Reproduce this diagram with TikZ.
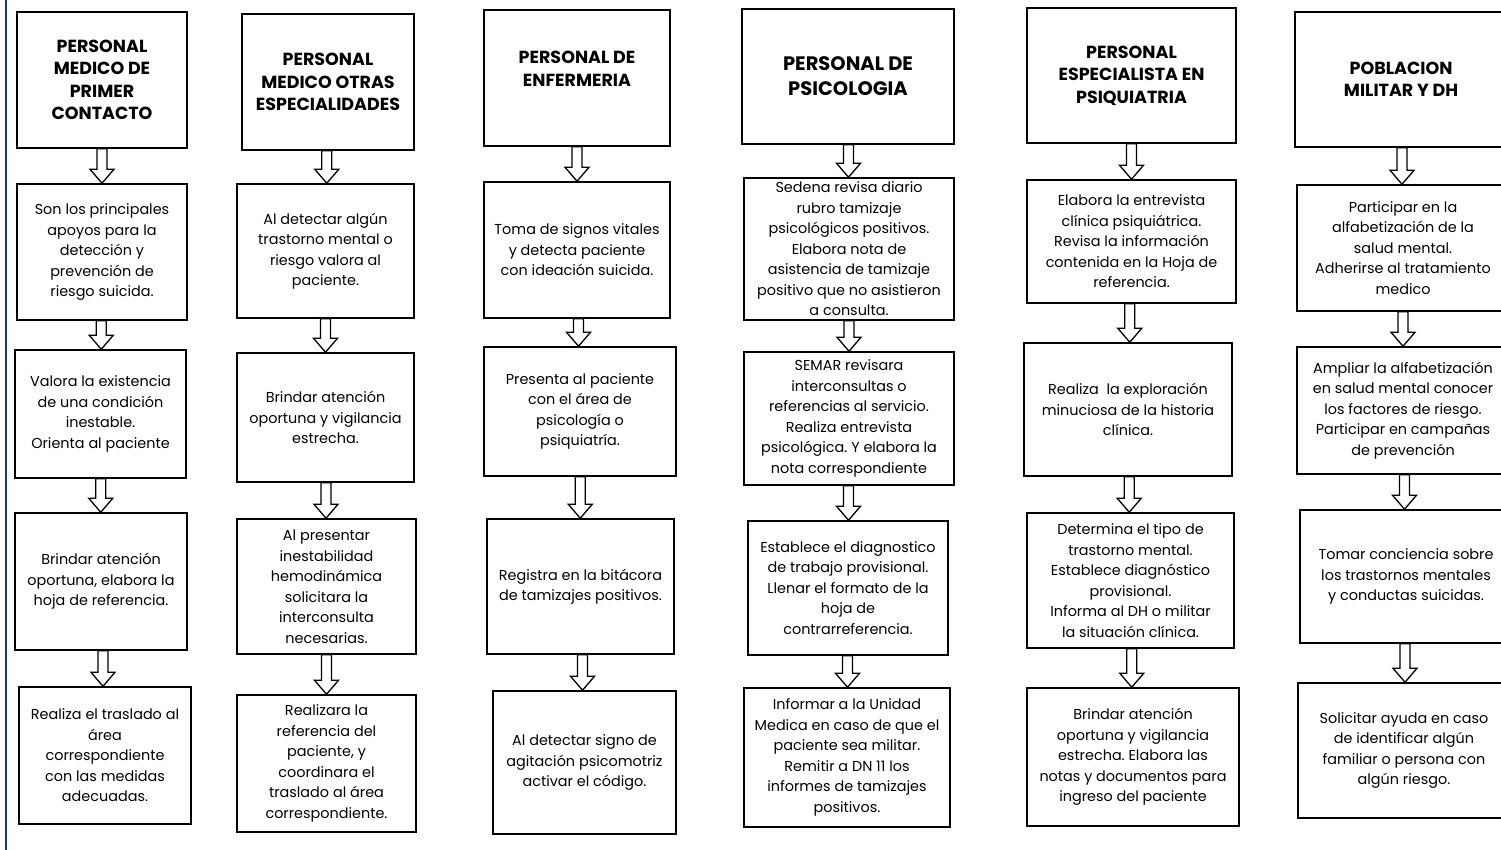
\documentclass[tikz,border=0pt]{standalone}
\usepackage{fontspec}
\setmainfont{Poppins}
\usetikzlibrary{calc,positioning}
\frenchspacing

\newcommand{\downarrowbox}[2]{%
  \draw[hollow] let \p1=($(#1.south)!0.5!(#2.north)$), \p2=(#1.south), \p3=(#2.north) in
    (\x1-5pt,\y2) -- (\x1-5pt,\y3+14pt) -- (\x1-12pt,\y3+14pt) -- (\x1,\y3)
    -- (\x1+12pt,\y3+14pt) -- (\x1+5pt,\y3+14pt) -- (\x1+5pt,\y2) -- cycle;}

\begin{document}
\begin{tikzpicture}[
    x=1pt, y=-1pt,
    header/.style={
        draw,
        line width=1.5pt,
        align=center,
        inner sep=1pt,
        font=\bfseries\fontsize{17.5}{22.5}\selectfont
    },
    stepbox/.style={
        draw,
        line width=1.5pt,
        align=center,
        inner xsep=2pt,
        inner ysep=0pt,
        font=\fontsize{14.4}{20.5}\selectfont
    },
    hollow/.style={draw=black, fill=white, line width=1.3pt, line join=miter},
    edgeline/.style={draw={rgb,255:red,31;green,56;blue,100}, line width=2.5pt}
]

\clip (0,0) rectangle (1501,850);
\fill[white] (0,0) rectangle (1501,850);

% Left border line
\draw[edgeline] (6,0) -- (6,850);

% Column 1 (medico de primer contacto)
\node[header, minimum width=170, minimum height=136] (h1) at (102,80) {PERSONAL\\MEDICO DE\\PRIMER\\CONTACTO};
\node[stepbox, minimum width=170, minimum height=136] (b11) at (102,252) {Son los principales\\apoyos para la\\detección y\\prevención de\\riesgo suicida.};
\node[stepbox, minimum width=171, minimum height=128] (b12) at (100.5,414) {Valora la existencia\\de una condición\\inestable.\\Orienta al paciente};
\node[stepbox, minimum width=172, minimum height=137] (b13) at (101,581.5) {Brindar atención\\oportuna, elabora la\\hoja de referencia.};
\node[stepbox, minimum width=172, minimum height=137] (b14) at (105,755.5) {Realiza el traslado al\\área\\correspondiente\\con las medidas\\adecuadas.};

% Column 2 (otras especialidades)
\node[header, minimum width=172, minimum height=136] (h2) at (328,82) {PERSONAL\\MEDICO OTRAS\\ESPECIALIDADES};
\node[stepbox, minimum width=177, minimum height=134] (b21) at (325.5,251) {Al detectar algún\\trastorno mental o\\riesgo valora al\\paciente.};
\node[stepbox, minimum width=177, minimum height=129] (b22) at (325.5,417.5) {Brindar atención\\oportuna y vigilancia\\estrecha.};
\node[stepbox, minimum width=179, minimum height=135] (b23) at (326.5,586.5) {Al presentar\\inestabilidad\\hemodinámica\\solicitara la\\interconsulta\\necesarias.};
\node[stepbox, minimum width=179, minimum height=137] (b24) at (326.5,763.5) {Realizara la\\referencia del\\paciente, y\\coordinara el\\traslado al área\\correspondiente.};

% Column 3 (enfermeria)
\node[header, minimum width=186, minimum height=136] (h3) at (577,78) {PERSONAL DE\\ENFERMERIA\par\vspace{18pt}};
\node[stepbox, minimum width=186, minimum height=136] (b31) at (577,250) {Toma de signos vitales\\y detecta paciente\\con ideación suicida.};
\node[stepbox, minimum width=192, minimum height=129] (b32) at (580,411.5) {Presenta al paciente\\con el área de\\psicología o\\psiquiatría.};
\node[stepbox, minimum width=187, minimum height=135] (b33) at (580.5,586.5) {Registra en la bitácora\\de tamizajes positivos.};
\node[stepbox, minimum width=183, minimum height=143] (b34) at (584.5,762.5) {Al detectar signo de\\agitación psicomotriz\\activar el código.};

% Column 4 (psicologia)
\node[header, minimum width=212, minimum height=135, font=\bfseries\fontsize{19.5}{25}\selectfont] (h4) at (848,76.5) {PERSONAL DE\\PSICOLOGIA};
\node[stepbox, minimum width=210, minimum height=142] (b41) at (849,249) {Sedena revisa diario\\rubro tamizaje\\psicológicos positivos.\\Elabora nota de\\asistencia de tamizaje\\positivo que no asistieron\\a consulta.};
\node[stepbox, minimum width=210, minimum height=133] (b42) at (849,418.5) {SEMAR revisara\\interconsultas o\\referencias al servicio.\\Realiza entrevista\\psicológica. Y elabora la\\nota correspondiente};
\node[stepbox, minimum width=200, minimum height=134] (b43) at (848,588) {Establece el diagnostico\\de trabajo provisional.\\Llenar el formato de la\\hoja de\\contrarreferencia.};
\node[stepbox, minimum width=206, minimum height=139] (b44) at (847,757.5) {Informar a la Unidad\\Medica en caso de que el\\paciente sea militar.\\Remitir a DN 11 los\\informes de tamizajes\\positivos.};

% Column 5 (psiquiatria)
\node[header, minimum width=209, minimum height=135] (h5) at (1131.5,75.5) {PERSONAL\\ESPECIALISTA EN\\PSIQUIATRIA};
\node[stepbox, minimum width=209, minimum height=123] (b51) at (1131.5,241.5) {Elabora la entrevista\\clínica psiquiátrica.\\Revisa la información\\contenida en la Hoja de\\referencia.};
\node[stepbox, minimum width=208, minimum height=133] (b52) at (1128,409.5) {Realiza\ \ la exploración\\minuciosa de la historia\\clínica.};
\node[stepbox, minimum width=207, minimum height=135] (b53) at (1130.5,580.5) {Determina el tipo de\\trastorno mental.\\Establece diagnóstico\\provisional.\\Informa al DH o militar\\la situación clínica.};
\node[stepbox, minimum width=212, minimum height=138] (b54) at (1133,757) {Brindar atención\\oportuna y vigilancia\\estrecha. Elabora las\\notas y documentos para\\ingreso del paciente};

% Column 6 (poblacion, cut at the right edge)
\node[header, minimum width=212, minimum height=135] (h6) at (1401,79.5) {POBLACION\\MILITAR Y DH};
\node[stepbox, minimum width=212, minimum height=126] (b61) at (1403,248) {Participar en la\\alfabetización de la\\salud mental.\\Adherirse al tratamiento\\medico};
\node[stepbox, minimum width=212, minimum height=127] (b62) at (1403,410.5) {Ampliar la alfabetización\\en salud mental conocer\\los factores de riesgo.\\Participar en campañas\\de prevención};
\node[stepbox, minimum width=212, minimum height=133] (b63) at (1406,576.5) {Tomar conciencia sobre\\los trastornos mentales\\y conductas suicidas.};
\node[stepbox, minimum width=212, minimum height=135] (b64) at (1404,750.5) {Solicitar ayuda en caso\\de identificar algún\\familiar o persona con\\algún riesgo.};

% Hollow arrows between steps
\downarrowbox{h1}{b11} \downarrowbox{b11}{b12} \downarrowbox{b12}{b13} \downarrowbox{b13}{b14}
\downarrowbox{h2}{b21} \downarrowbox{b21}{b22} \downarrowbox{b22}{b23} \downarrowbox{b23}{b24}
\downarrowbox{h3}{b31} \downarrowbox{b31}{b32} \downarrowbox{b32}{b33} \downarrowbox{b33}{b34}
\downarrowbox{h4}{b41} \downarrowbox{b41}{b42} \downarrowbox{b42}{b43} \downarrowbox{b43}{b44}
\downarrowbox{h5}{b51} \downarrowbox{b51}{b52} \downarrowbox{b52}{b53} \downarrowbox{b53}{b54}
\downarrowbox{h6}{b61} \downarrowbox{b61}{b62} \downarrowbox{b62}{b63} \downarrowbox{b63}{b64}

\end{tikzpicture}
\end{document}
